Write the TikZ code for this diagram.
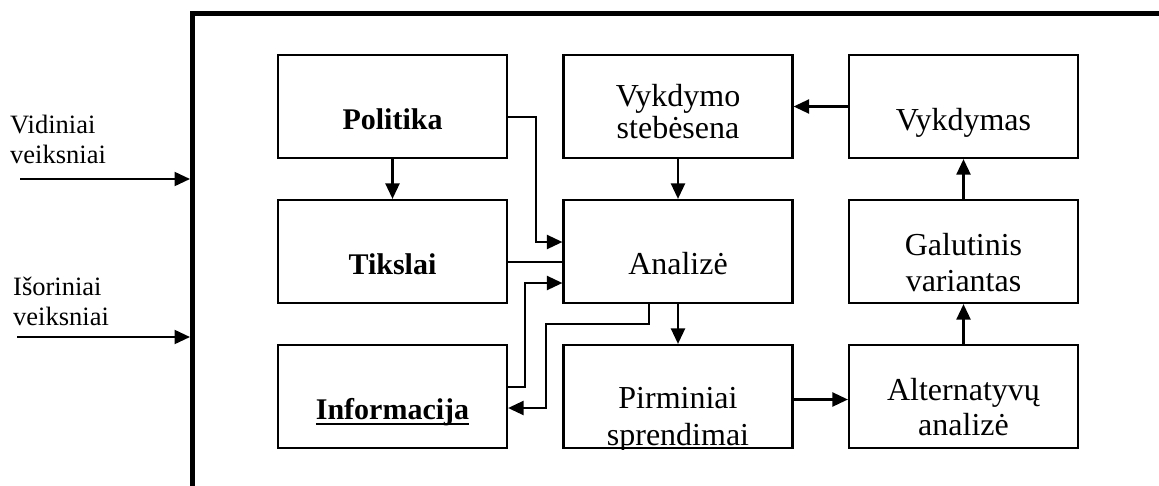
\documentclass[tikz,border=0pt]{standalone}
\usepackage{fontspec}
\setmainfont{Liberation Serif}
\usetikzlibrary{arrows.meta,calc}
% underline drawn as a rule just under the baseline
\newcommand\ulword[1]{\setbox0\hbox{#1}\rlap{\rule[-5pt]{\wd0}{2pt}}\box0}
\begin{document}
\begin{tikzpicture}[x=1pt,y=-1pt,
  box/.style={draw,line width=2.2pt,minimum width=229pt,minimum height=103pt,inner sep=0pt},
  txt/.style={font=\fontsize{32}{35}\selectfont,align=center,inner sep=0pt,anchor=base},
  btxt/.style={txt,font=\fontsize{30}{35}\selectfont\bfseries},
  sidetxt/.style={font=\fontsize{26.5}{30}\selectfont,align=left,inner sep=0pt,anchor=base west},
  conn/.style={line width=2.2pt},
  arr/.style={conn,-{Triangle[length=15.5pt,width=14pt]}},
]
\useasboundingbox (0,0) rectangle (1159,485);

% thick system frame
\draw[line width=5pt] (192.5,495) -- (192.5,13.5) -- (1170,13.5);
\coordinate (fin1) at (190,179);
\coordinate (fin2) at (190,337);
\coordinate (src1) at (20,179);
\coordinate (src2) at (17,337);

% external influences (base anchor sits on the last line)
\node[sidetxt] (vid) at (10,163) {Vidiniai\\veiksniai};
\node[sidetxt] (isor) at (13,325) {Išoriniai\\veiksniai};
\draw[arr] (src1) -- (fin1);
\draw[arr] (src2) -- (fin2);

% boxes
\node[box] (pol) at (392.5,106.5) {};
\node[box] (tik) at (392.5,251.5) {};
\node[box] (inf) at (392.5,396.5) {};
\node[box] (vst) at (678,106.5) {};
\node[box] (ana) at (678,251.5) {};
\node[box] (pir) at (678,396.5) {};
\node[box] (vyk) at (963.5,106.5) {};
\node[box] (gal) at (963.5,251.5) {};
\node[box] (alt) at (963.5,396.5) {};

% box texts
\node[btxt] (polt) at ($(pol.north)+(0,76)$) {Politika};
\node[btxt] (tikt) at ($(tik.north)+(0,76)$) {Tikslai};
\node[btxt] (inft) at ($(inf.north)+(0,76)$) {\ulword{Informacija}};
\node[txt,font=\fontsize{32}{32}\selectfont] (vstt) at ($(vst.north)+(0,85)$) {Vykdymo\\stebėsena};
\node[txt] (anat) at ($(ana.north)+(0,76)$) {Analizė};
\begin{scope}
  \clip (pir.south west) rectangle (pir.north east);
  \node[txt,font=\fontsize{32}{37}\selectfont] (pirt) at ($(pir.north)+(0,102)$) {Pirminiai\\sprendimai};
\end{scope}
\node[txt] (vykt) at ($(vyk.north)+(0,77)$) {Vykdymas};
\node[txt,font=\fontsize{32}{36}\selectfont] (galt) at ($(gal.north)+(0,93)$) {Galutinis\\variantas};
\node[txt] (altt) at ($(alt.north)+(0,92)$) {Alternatyvų\\analizė};

% connectors
\draw[arr] (pol.south) -- (tik.north);
\draw[arr] (vst.south) -- (ana.north);
\draw[arr] (ana.south) -- (pir.north);
\draw[arr] (vyk.west) -- (vst.east);
\draw[arr] (gal.north) -- (vyk.south);
\draw[arr] (alt.north) -- (gal.south);
\draw[arr] ([yshift=-3pt]pir.east) -- ([yshift=-3pt]alt.west);
\draw[arr] ([yshift=-10.5pt]pol.east) -- ++(28,0) |- ([yshift=9.5pt]ana.west);
\draw[conn] ([yshift=-10.5pt]tik.east) -- ([yshift=-10.5pt]ana.west);
\draw[arr] ([yshift=9.5pt]inf.east) -- ++(17,0) |- ([yshift=-31.5pt]ana.west);
\draw[arr] ([xshift=-29pt]ana.south) |- (546,324) |- ([yshift=-11.5pt]inf.east);
\end{tikzpicture}
\end{document}
